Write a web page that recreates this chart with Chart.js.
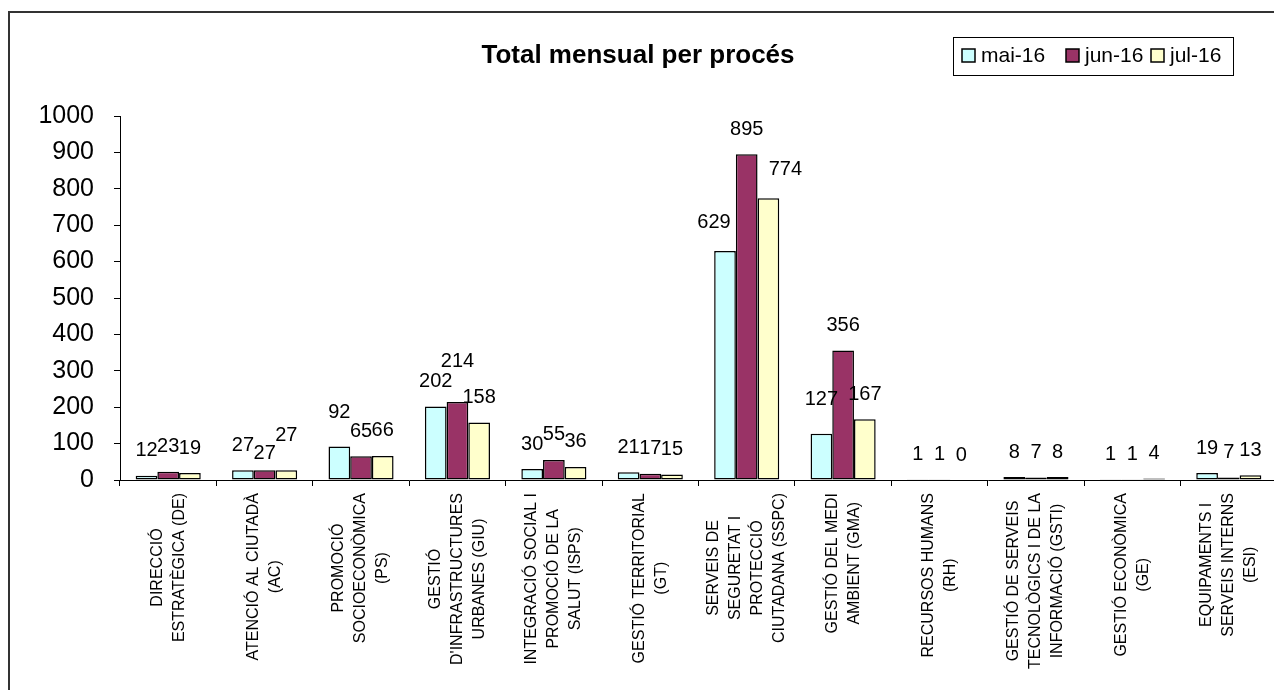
<!DOCTYPE html>
<html>
<head>
<meta charset="utf-8">
<title>Total mensual per procés</title>
<script src="https://cdn.jsdelivr.net/npm/chart.js@4/dist/chart.umd.min.js"></script>
<style>
  html, body { margin: 0; padding: 0; overflow: hidden; background: #fff; }
  #wrap { width: 1300px; height: 700px; }
</style>
</head>
<body>
<div id="wrap"><canvas id="barChart" width="1300" height="700"></canvas></div>
<script>
// categories (one array per label line)
const categories = [
    ['DIRECCIÓ', 'ESTRATÈGICA (DE)'],
    ['ATENCIÓ AL CIUTADÀ', '(AC)'],
    ['PROMOCIÓ', 'SOCIOECONÒMICA', '(PS)'],
    ['GESTIÓ', "D'INFRASTRUCTURES", 'URBANES (GIU)'],
    ['INTEGRACIÓ SOCIAL I', 'PROMOCIÓ DE LA', 'SALUT (ISPS)'],
    ['GESTIÓ TERRITORIAL', '(GT)'],
    ['SERVEIS DE', 'SEGURETAT I', 'PROTECCIÓ', 'CIUTADANA (SSPC)'],
    ['GESTIÓ DEL MEDI', 'AMBIENT (GMA)'],
    ['RECURSOS HUMANS', '(RH)'],
    ['GESTIÓ DE SERVEIS', 'TECNOLÒGICS I DE LA', 'INFORMACIÓ (GSTI)'],
    ['GESTIÓ ECONÒMICA', '(GE)'],
    ['EQUIPAMENTS I', 'SERVEIS INTERNS', '(ESI)']
];
const seriesNames = ['mai-16', 'jun-16', 'jul-16'];
const mai16 = [12, 27, 92, 202, 30, 21, 629, 127, 1, 8, 1, 19];
const jun16 = [23, 27, 65, 214, 55, 17, 895, 356, 1, 7, 1, 7];
const jul16 = [19, 27, 66, 158, 36, 15, 774, 167, 0, 8, 4, 13];
const yTicks = [0, 100, 200, 300, 400, 500, 600, 700, 800, 900, 1000];

const colors = ['#CCFFFF', '#993366', '#FFFFCC'];
const FONT = "'Liberation Sans', Arial, sans-serif";

// a few value labels were moved by hand so they don't collide: "series:index" -> [dx, dy]
const labelNudge = {
    '1:1': [0, 8], '2:1': [0, -10],
    '0:2': [0, -9],
    '1:3': [0, -16],
    '0:6': [-11, -4], '2:6': [17, -4],
    '0:7': [0, -9]
};

Chart.defaults.font.family = FONT;
Chart.defaults.color = '#000';

const decorations = {
    id: 'decorations',
    beforeDraw(chart) {
        const ctx = chart.ctx;
        ctx.save();
        ctx.fillStyle = '#fff';
        ctx.fillRect(0, 0, chart.width, chart.height);
        ctx.restore();
    },
    afterDraw(chart) {
        const ctx = chart.ctx;
        const x = chart.scales.x;
        const area = chart.chartArea;
        ctx.save();

        // outer frame (runs off the right and bottom edges)
        ctx.strokeStyle = '#333';
        ctx.lineWidth = 2;
        ctx.strokeRect(9, 12, 1400, 800);

        // title
        ctx.fillStyle = '#000';
        ctx.font = 'bold 26px ' + FONT;
        ctx.textAlign = 'center';
        ctx.textBaseline = 'alphabetic';
        ctx.fillText('Total mensual per procés', 638, 63);

        // legend box with three swatches
        ctx.strokeStyle = '#000';
        ctx.lineWidth = 1;
        ctx.strokeRect(953.5, 37.5, 280, 38);
        ctx.font = '21px ' + FONT;
        ctx.textAlign = 'left';
        ctx.textBaseline = 'middle';
        const swatchX = [962, 1066, 1151];
        seriesNames.forEach((name, i) => {
            ctx.fillStyle = colors[i];
            ctx.fillRect(swatchX[i], 49, 13, 13);
            ctx.lineWidth = 1.5;
            ctx.strokeRect(swatchX[i], 49, 13, 13);
            ctx.fillStyle = '#000';
            ctx.fillText(name, swatchX[i] + 19, 56);
        });

        // rotated category labels, lines centred on each other
        ctx.font = '16px ' + FONT;
        ctx.textAlign = 'center';
        ctx.textBaseline = 'middle';
        categories.forEach((lines, i) => {
            const cx = x.getPixelForValue(i);
            const longest = Math.max(...lines.map(l => ctx.measureText(l).width));
            const cy = area.bottom + 13 + longest / 2;
            lines.forEach((line, j) => {
                const lxPos = cx - (lines.length - 1) * 11 + j * 22;
                ctx.save();
                ctx.translate(lxPos, cy);
                ctx.rotate(-Math.PI / 2);
                ctx.fillText(line, 0, 0);
                ctx.restore();
            });
        });

        // value labels above the bars
        ctx.font = '20px ' + FONT;
        chart.data.datasets.forEach((ds, s) => {
            chart.getDatasetMeta(s).data.forEach((bar, i) => {
                const nudge = labelNudge[s + ':' + i] || [0, 0];
                ctx.fillText(String(ds.data[i]), bar.x + nudge[0], bar.y - 25 + nudge[1]);
            });
        });

        ctx.restore();
    }
};

const ctx = document.getElementById('barChart').getContext('2d');
new Chart(ctx, {
    type: 'bar',
    data: {
        labels: categories.map(c => c.join(' ')),
        datasets: [mai16, jun16, jul16].map((values, i) => ({
            label: seriesNames[i],
            data: values,
            backgroundColor: colors[i],
            borderColor: '#000',
            borderWidth: 1.5,
            borderSkipped: false,
            categoryPercentage: 0.675,
            barPercentage: 1.0
        }))
    },
    options: {
        responsive: false,
        animation: false,
        layout: { padding: { top: 116, right: 23, left: 0, bottom: 0 } },
        plugins: {
            legend: { display: false },
            tooltip: { enabled: false },
            title: { display: false }
        },
        scales: {
            x: {
                grid: { display: true, drawOnChartArea: false, drawTicks: true, tickLength: 6, color: '#000', offset: true },
                border: { display: true, color: '#000', width: 1 },
                ticks: { display: false },
                afterFit(scale) { scale.height = 220; }
            },
            y: {
                min: yTicks[0],
                max: yTicks[yTicks.length - 1],
                afterBuildTicks(scale) { scale.ticks = yTicks.map(v => ({ value: v })); },
                grid: { display: true, drawOnChartArea: false, drawTicks: true, tickLength: 6, color: '#000' },
                border: { display: true, color: '#000', width: 1 },
                ticks: { font: { size: 25 }, color: '#000', padding: 20, callback: v => String(v) },
                afterFit(scale) { scale.width = 120; }
            }
        }
    },
    plugins: [decorations]
});
</script>
</body>
</html>
